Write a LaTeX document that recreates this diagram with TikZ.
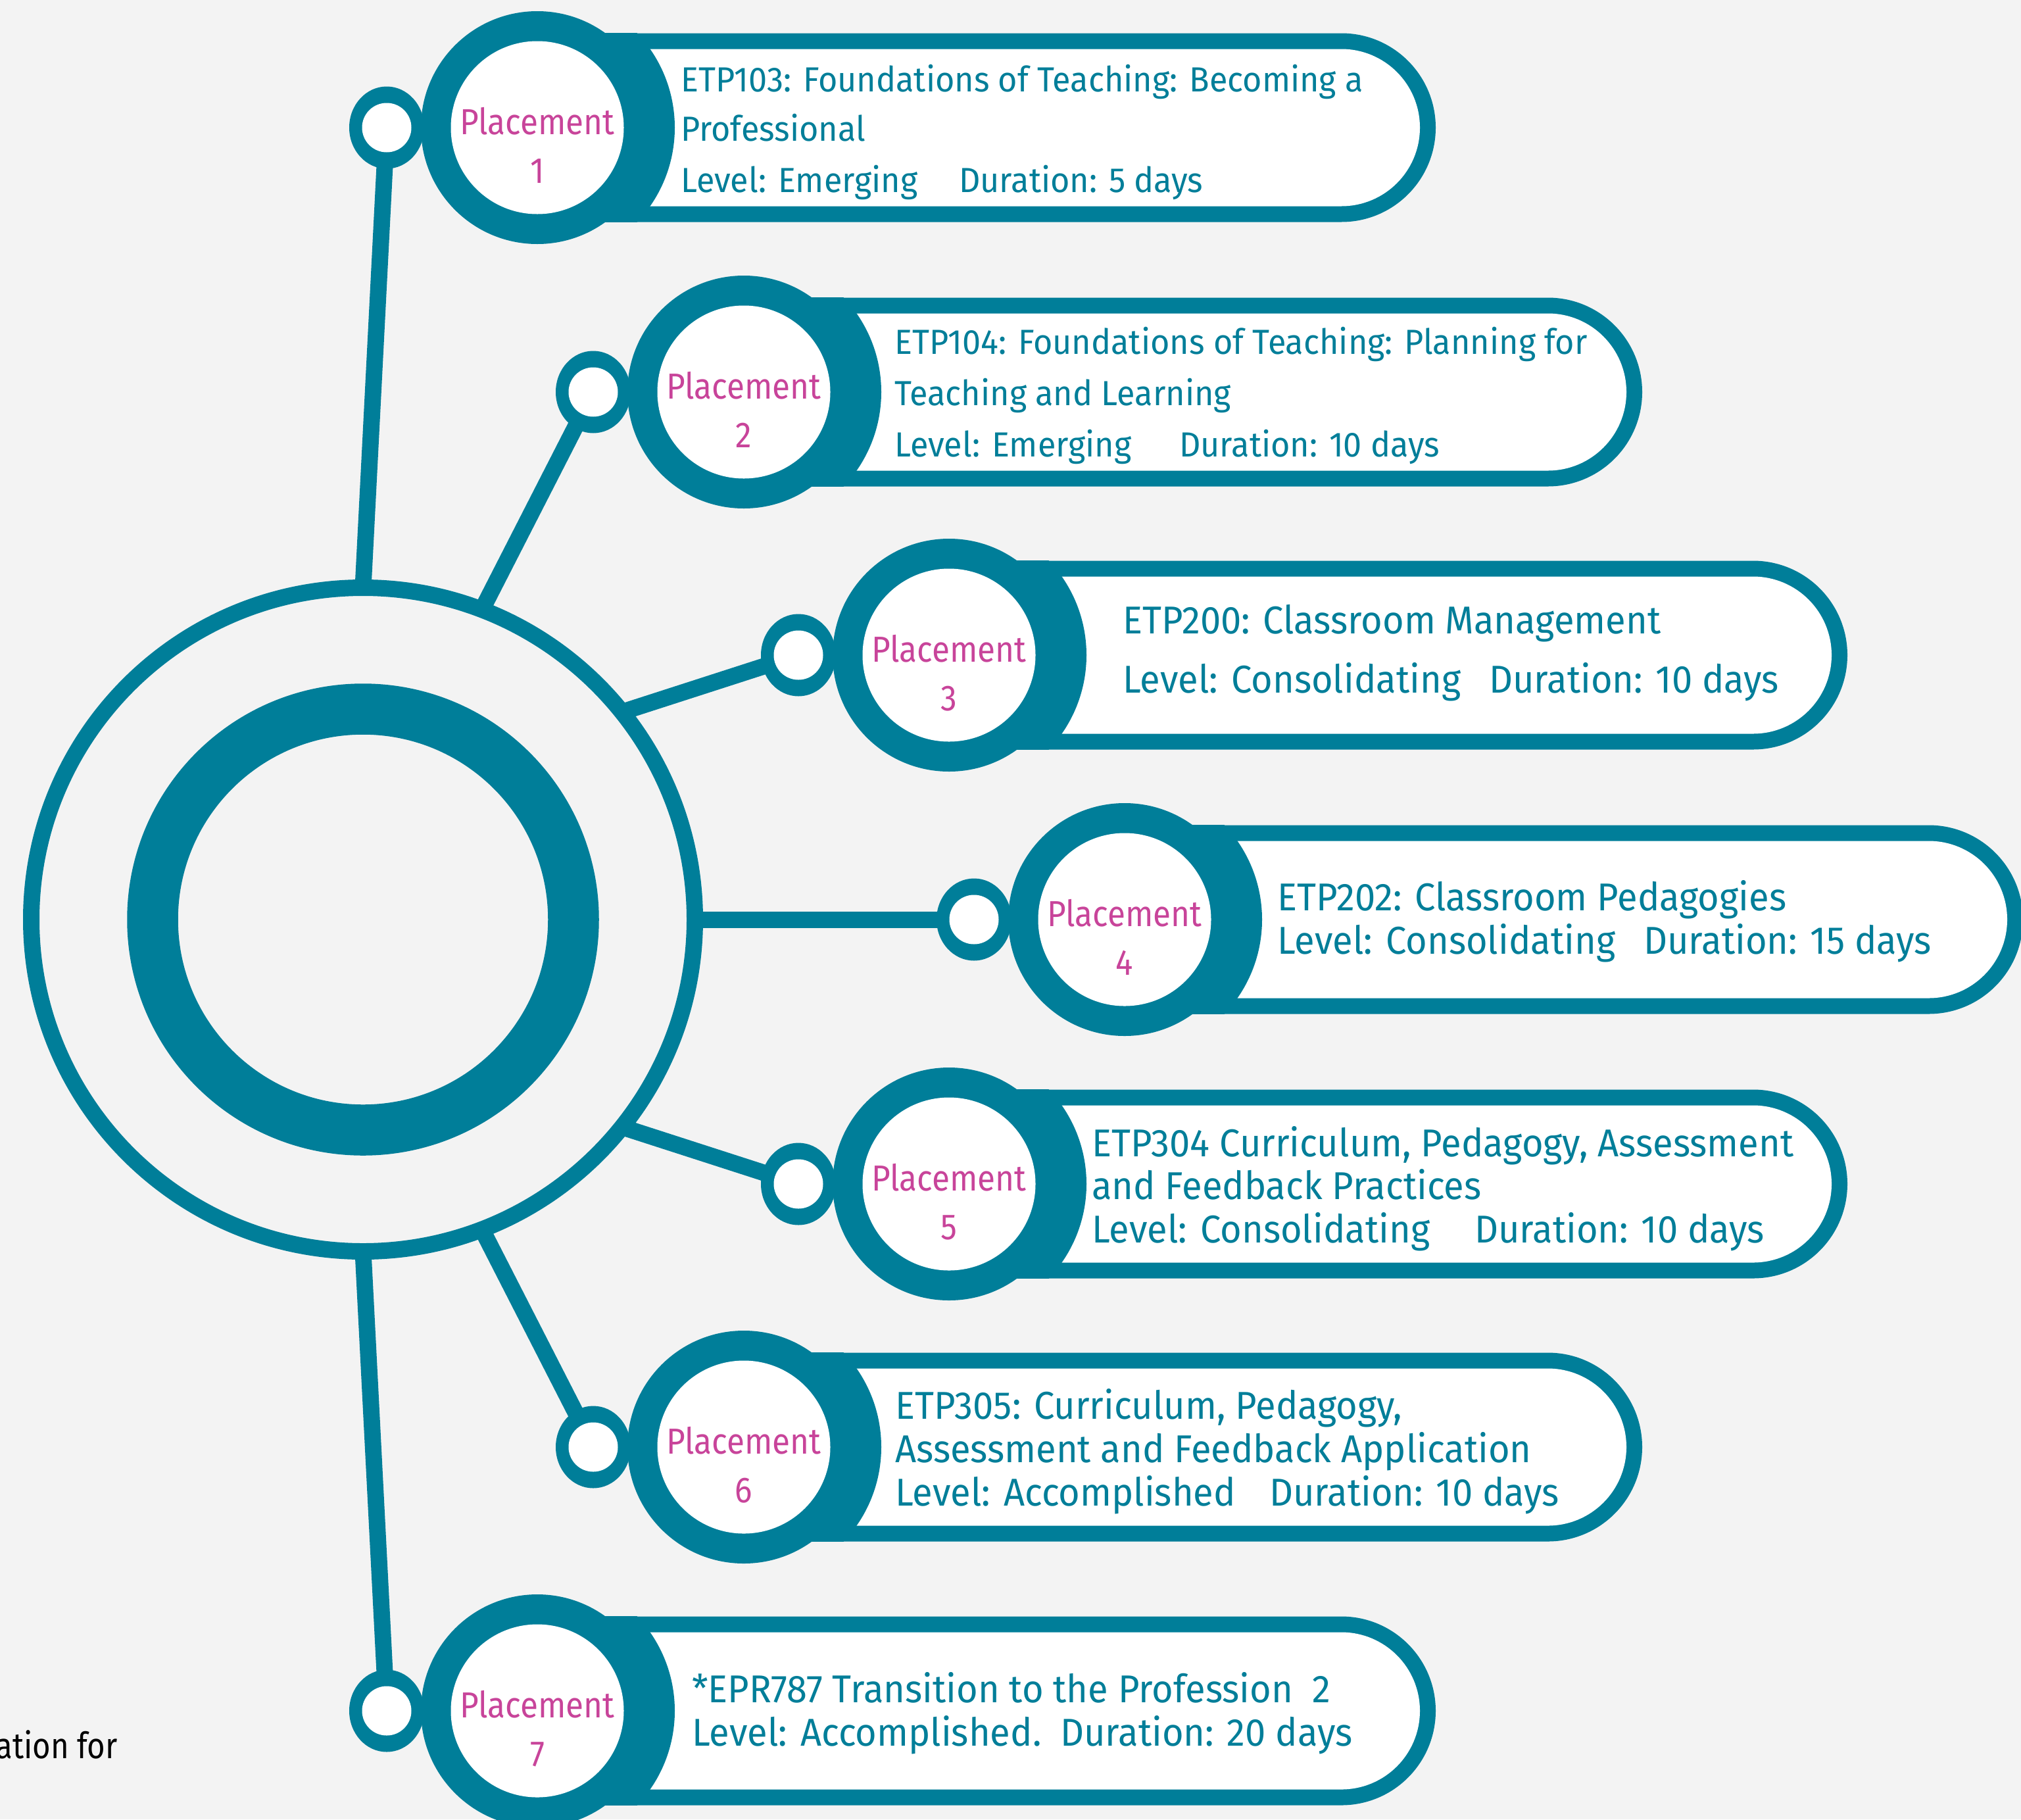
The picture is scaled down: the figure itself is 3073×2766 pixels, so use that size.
\documentclass[tikz,border=0pt]{standalone}
\usepackage{fontspec}
\setmainfont[FakeStretch=0.95]{Fira Sans}
\newfontfamily\plfont[FakeStretch=0.9]{Fira Sans}
\newfontfamily\cutfont[FakeStretch=0.86]{Fira Sans}
\usetikzlibrary{calc}
\definecolor{tealc}{HTML}{007E99}
\definecolor{pinkc}{HTML}{C8449A}
\definecolor{bgc}{HTML}{F3F3F3}
\tikzset{
  conn/.style={tealc, line width=25pt},
  plabel/.style={text=pinkc, font=\plfont\fontsize{55}{60}\selectfont, inner sep=0pt, anchor=base},
  tsmall/.style={text=tealc, font=\fontsize{53}{58}\selectfont, inner sep=0pt, anchor=base west},
  tbig/.style={text=tealc, font=\fontsize{59}{64}\selectfont, inner sep=0pt, anchor=base west},
}
\newcommand{\drawplacement}[5]{%
  % #1 id, #2 small x, #3 y, #4 ring angle, #5 number
  \coordinate (r#1) at ($(hub)+(#4:504.5pt)$);
  \coordinate (s#1) at (#2,#3);
  \coordinate (b#1) at (#2+229,#3);
  \draw[conn] (r#1) -- (s#1);
  \fill[tealc, rounded corners=143.5pt] (#2+79,#3-143.5) rectangle (#2+1595,#3+143.5);
  \fill[white, rounded corners=119.5pt] (#2+79,#3-119.5) rectangle (#2+1571,#3+119.5);
  \begin{scope}
    \clip (#2+229,#3-143.5) rectangle (#2+500,#3+143.5);
    \fill[tealc] (b#1) circle[radius=209pt];
  \end{scope}
  \fill[tealc] (b#1) circle[radius=177pt];
  \fill[white] (b#1) circle[radius=131.5pt];
  \fill[tealc] (s#1) ellipse[x radius=57pt, y radius=62.5pt];
  \fill[white] (s#1) circle[radius=37.5pt];
  \node[plabel] (pl#1) at (#2+229,#3+10) {Placement};
  \node[plabel] (pn#1) at (#2+229,#3+84) {#5};
}
\begin{document}
\begin{tikzpicture}[x=1pt,y=-1pt]
\useasboundingbox (0,0) rectangle (3073,2766);
\fill[bgc] (0,0) rectangle (3073,2766);
\coordinate (hub) at (552,1398);

\drawplacement{1}{588}{194}{90}{1}
\drawplacement{2}{902}{596}{69}{2}
\drawplacement{3}{1214}{996}{38.7}{3}
\drawplacement{4}{1481}{1398}{0}{4}
\drawplacement{5}{1214}{1800}{-38.7}{5}
\drawplacement{6}{902}{2200}{-69}{6}
\drawplacement{7}{588}{2601}{-90}{7}

% central rings
\draw[tealc, line width=25pt] (hub) circle[radius=504.5pt];
\draw[tealc, line width=77.5pt] (hub) circle[radius=320pt];

% texts
\node[tsmall] (t1a) at (1035,139) {ETP103: Foundations of Teaching: Becoming a};
\node[tsmall] (t1b) at (1035,214) {Professional};
\node[tsmall] (t1c) at (1035,292) {Level: Emerging};
\node[tsmall] (t1d) at (1458,292) {Duration: 5 days};

\node[tsmall] (t2a) at (1360,538) {ETP104: Foundations of Teaching: Planning for};
\node[tsmall] (t2b) at (1360,616) {Teaching and Learning};
\node[tsmall] (t2c) at (1360,694) {Level: Emerging};
\node[tsmall] (t2d) at (1793,694) {Duration: 10 days};

\node[tbig] (t3a) at (1707,963) {ETP200: Classroom Management};
\node[tbig] (t3b) at (1707,1053) {Level: Consolidating};
\node[tbig] (t3c) at (2264,1053) {Duration: 10 days};

\node[tbig] (t4a) at (1942,1384) {ETP202: Classroom Pedagogies};
\node[tbig] (t4b) at (1942,1450) {Level: Consolidating};
\node[tbig] (t4c) at (2499,1450) {Duration: 15 days};

\node[tbig] (t5a) at (1660,1758) {ETP304 Curriculum, Pedagogy, Assessment};
\node[tbig] (t5b) at (1660,1823) {and Feedback Practices};
\node[tbig] (t5c) at (1660,1889) {Level: Consolidating};
\node[tbig] (t5d) at (2242,1889) {Duration: 10 days};

\node[tbig] (t6a) at (1361,2157) {ETP305: Curriculum, Pedagogy,};
\node[tbig] (t6b) at (1361,2223) {Assessment and Feedback Application};
\node[tbig] (t6c) at (1361,2289) {Level: Accomplished};
\node[tbig] (t6d) at (1930,2289) {Duration: 10 days};

\node[tbig] (t7a) at (1052,2588) {*EPR787 Transition to the Profession\ \ 2};
\node[tbig] (t7b) at (1052,2654) {Level: Accomplished.};
\node[tbig] (t7c) at (1612,2654) {Duration: 20 days};

\node[text=black, font=\cutfont\fontsize{55}{60}\selectfont, inner sep=0pt, anchor=base east] (cut) at (179,2673) {ation for};
\end{tikzpicture}
\end{document}
